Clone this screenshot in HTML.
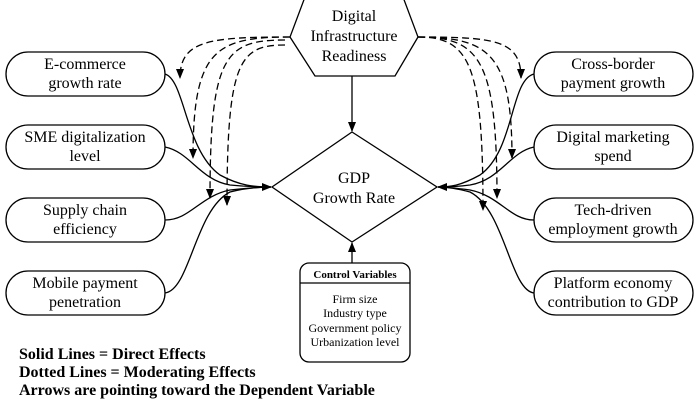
<!DOCTYPE html>
<html><head><meta charset="utf-8"><style>
html,body{margin:0;padding:0;background:#fff;}
svg{display:block;font-family:"Liberation Serif",serif;}
</style></head><body>
<svg width="700" height="400" viewBox="0 0 700 400" xmlns="http://www.w3.org/2000/svg">
<defs>
<marker id="a" markerWidth="10" markerHeight="10" refX="9" refY="5" orient="auto" markerUnits="userSpaceOnUse"><path d="M0,1 L10,5 L0,9 z" fill="#000"/></marker>
</defs>
<g fill="none" stroke="#000" stroke-width="1.3">
<path d="M305,-3 L290,37 L315,76 L395,76 L418,37 L403,-3"/>
<path d="M352,132 L437,187 L352,242 L272,187 Z"/>
<rect x="6" y="52" width="159" height="44" rx="22"/>
<rect x="6" y="125" width="159" height="44" rx="22"/>
<rect x="6" y="198" width="159" height="44" rx="22"/>
<rect x="6" y="271" width="159" height="44" rx="22"/>
<rect x="534" y="52" width="159" height="44" rx="22"/>
<rect x="534" y="125" width="159" height="44" rx="22"/>
<rect x="534" y="198" width="159" height="44" rx="22"/>
<rect x="534" y="271" width="159" height="44" rx="22"/>
<rect x="300" y="263" width="110" height="99" rx="9"/>
<line x1="300" y1="283" x2="410" y2="283"/>
<line x1="352" y1="76" x2="352" y2="131" marker-end="url(#a)"/>
<line x1="352" y1="263" x2="352" y2="243" marker-end="url(#a)"/>
<path d="M165,74 C185,80 185,150 220,175 C240,186 255,187 271,187" marker-end="url(#a)"/>
<path d="M165,147 C190,152 200,180 230,185 C250,187 262,187 271,187"/>
<path d="M165,220 C190,220 200,196 230,190 C250,188 262,187 271,187"/>
<path d="M165,293 C190,290 195,210 230,192 C245,188 260,187 271,187"/>
<path d="M534,74 C510,80 515,150 480,175 C460,186 450,187 438,187" marker-end="url(#a)"/>
<path d="M534,147 C510,152 500,180 470,185 C455,187 445,187 438,187"/>
<path d="M534,220 C510,220 500,196 470,190 C455,188 445,187 438,187"/>
<path d="M534,293 C510,290 505,210 470,192 C455,188 445,187 438,187"/>
</g>
<g fill="none" stroke="#000" stroke-width="1.3" stroke-dasharray="7,4">
<path d="M290,37 C210,37 180,40 180,78" marker-end="url(#a)"/>
<path d="M290,37 C215,37 193,50 193,158" marker-end="url(#a)"/>
<path d="M285,40 C225,40 210,55 210,198" marker-end="url(#a)"/>
<path d="M285,45 C240,45 227,60 227,205" marker-end="url(#a)"/>
<path d="M418,37 C495,37 521,40 521,78" marker-end="url(#a)"/>
<path d="M418,37 C490,37 512,55 512,158" marker-end="url(#a)"/>
<path d="M418,37 C480,37 497,60 497,198" marker-end="url(#a)"/>
<path d="M418,37 C470,37 483,65 483,210" marker-end="url(#a)"/>
</g>
<g font-size="16" text-anchor="middle" fill="#000">
<text x="354" y="21">Digital</text>
<text x="354" y="41">Infrastructure</text>
<text x="354" y="61">Readiness</text>
<text x="354" y="183">GDP</text>
<text x="354" y="203">Growth Rate</text>
<text x="85" y="69">E-commerce</text>
<text x="85" y="88">growth rate</text>
<text x="85" y="142">SME digitalization</text>
<text x="85" y="161">level</text>
<text x="85" y="215">Supply chain</text>
<text x="85" y="234">efficiency</text>
<text x="85" y="288">Mobile payment</text>
<text x="85" y="307">penetration</text>
<text x="613" y="69">Cross-border</text>
<text x="613" y="88">payment growth</text>
<text x="613" y="142">Digital marketing</text>
<text x="613" y="161">spend</text>
<text x="613" y="215">Tech-driven</text>
<text x="613" y="234">employment growth</text>
<text x="613" y="288">Platform economy</text>
<text x="613" y="307">contribution to GDP</text>
</g>
<text x="355" y="278" font-size="11" font-weight="bold" text-anchor="middle">Control Variables</text>
<g font-size="12" text-anchor="middle">
<text x="355" y="303">Firm size</text>
<text x="355" y="317">Industry type</text>
<text x="355" y="332">Government policy</text>
<text x="355" y="346">Urbanization level</text>
</g>
<g font-size="16" font-weight="bold">
<text x="19" y="359">Solid Lines = Direct Effects</text>
<text x="19" y="377">Dotted Lines = Moderating Effects</text>
<text x="19" y="395">Arrows are pointing toward the Dependent Variable</text>
</g>
</svg>
</body></html>
